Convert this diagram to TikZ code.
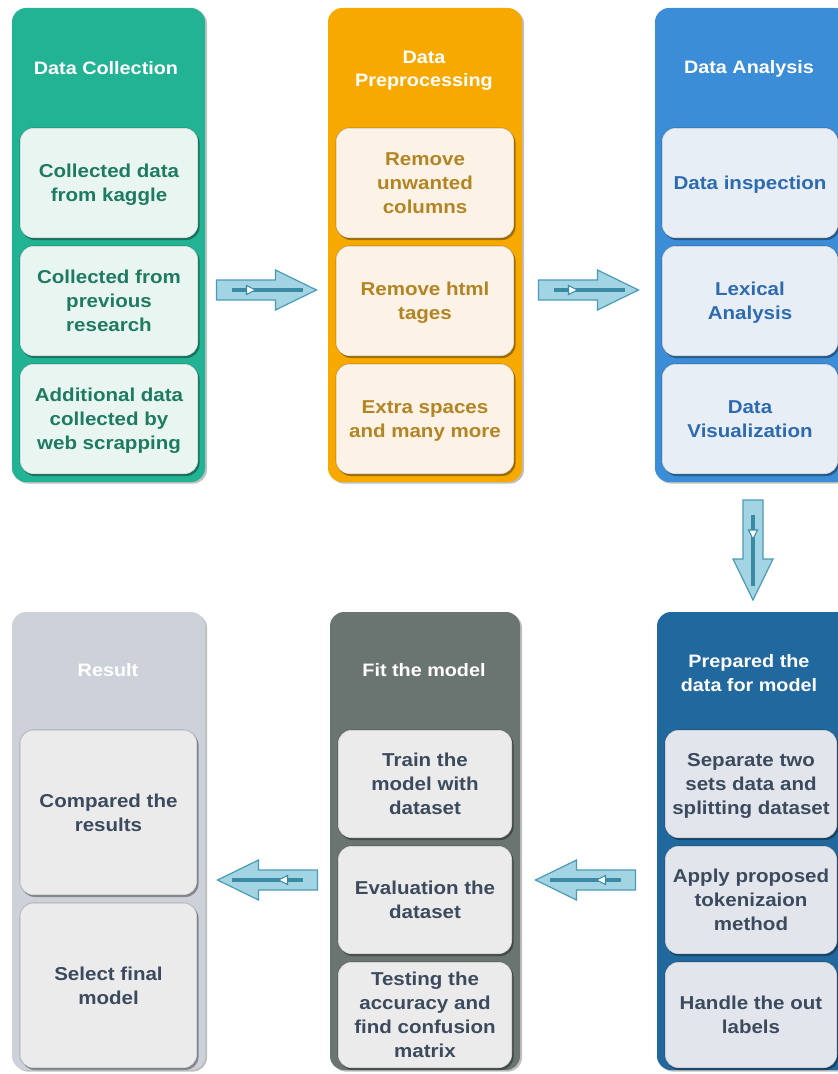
\documentclass[tikz,border=0pt]{standalone}
\usepackage{fontspec}
\setmainfont{Liberation Sans}[FakeStretch=1.1]
\usetikzlibrary{calc,shadows}
\definecolor{cgreen}{HTML}{21B394}
\definecolor{igreen}{HTML}{E9F5F1}
\definecolor{tgreen}{HTML}{1F7A62}
\definecolor{corange}{HTML}{F8A900}
\definecolor{iorange}{HTML}{FCF2E6}
\definecolor{torange}{HTML}{B38424}
\definecolor{cblue}{HTML}{3A8DD6}
\definecolor{iblue}{HTML}{E8EEF6}
\definecolor{tblue}{HTML}{2D6BAE}
\definecolor{cdblue}{HTML}{21689E}
\definecolor{idblue}{HTML}{E2E6EC}
\definecolor{cdgray}{HTML}{6A7471}
\definecolor{cgray}{HTML}{CDD2DA}
\definecolor{igray}{HTML}{EBEBEB}
\definecolor{tslate}{HTML}{3C4A5E}
\definecolor{afill}{HTML}{A3D4E4}
\definecolor{aedge}{HTML}{4A9BB5}
\definecolor{aline}{HTML}{3A8AA3}
\tikzset{
  colbox/.style={rounded corners=10.5pt, inner sep=0pt,
    drop shadow={shadow xshift=1.5pt, shadow yshift=-1.2pt, opacity=0.25, fill=black}},
  innerbox/.style={rounded corners=10pt, inner sep=0pt, align=center, text depth=0pt,
    draw=black, draw opacity=0.15, line width=0.8pt,
    font=\fontsize{14}{18}\selectfont\bfseries,
    drop shadow={shadow xshift=1.2pt, shadow yshift=-1.5pt, opacity=0.35, fill=black}},
  titletext/.style={align=center, text=white, font=\fontsize{13.5}{17.5}\selectfont\bfseries},
  arrbody/.style={fill=afill, draw=aedge, line width=0.9pt, line join=miter},
  arrline/.style={draw=aline, line width=2.6pt},
  arrtri/.style={fill=white, draw=aline, line width=0.8pt}
}
\newcommand\flowarrow[2]{%
  \begin{scope}[shift={(#1)}, rotate=#2]
    \draw[arrbody] (-50,-10) -- (9,-10) -- (9,-20) -- (50,0) -- (9,20) -- (9,10) -- (-50,10) -- cycle;
    \draw[arrline] (-35,0) -- (36,0);
    \draw[arrtri] (-20,-4.5) -- (-11,0) -- (-20,4.5) -- cycle;
  \end{scope}}
\begin{document}
\begin{tikzpicture}[x=0.75pt, y=-0.75pt]
\useasboundingbox (0,0) rectangle (838,1074);
\clip (0,0) rectangle (838,1074);
% ---------- top row ----------
\node[colbox, fill=cgreen, minimum width={193*0.75pt}, minimum height={474*0.75pt}] (c1) at (108.5,245) {};
\node[titletext] (t1) at (106,68) {Data Collection};
\node[innerbox, fill=igreen, text=tgreen, minimum width={178*0.75pt}, minimum height={110*0.75pt}] (b11) at (109,183) {Collected data\\from kaggle};
\node[innerbox, fill=igreen, text=tgreen, minimum width={178*0.75pt}, minimum height={110*0.75pt}] (b12) at (109,301) {Collected from\\previous\\research};
\node[innerbox, fill=igreen, text=tgreen, minimum width={178*0.75pt}, minimum height={110*0.75pt}] (b13) at (109,419) {Additional data\\collected by\\web scrapping};

\node[colbox, fill=corange, minimum width={194*0.75pt}, minimum height={474*0.75pt}] (c2) at (425,245) {};
\node[titletext] (t2) at (424,71) {Data\\Preprocessing};
\node[innerbox, fill=iorange, text=torange, minimum width={178*0.75pt}, minimum height={110*0.75pt}] (b21) at (425,183) {Remove\\unwanted\\columns};
\node[innerbox, fill=iorange, text=torange, minimum width={178*0.75pt}, minimum height={110*0.75pt}] (b22) at (425,301) {Remove html\\tages};
\node[innerbox, fill=iorange, text=torange, minimum width={178*0.75pt}, minimum height={110*0.75pt}] (b23) at (425,419) {Extra spaces\\and many more};

\node[colbox, fill=cblue, minimum width={194*0.75pt}, minimum height={474*0.75pt}] (c3) at (752,245) {};
\node[titletext] (t3) at (749,69) {Data Analysis};
\node[innerbox, fill=iblue, text=tblue, minimum width={176*0.75pt}, minimum height={110*0.75pt}] (b31) at (750,183) {Data inspection};
\node[innerbox, fill=iblue, text=tblue, minimum width={176*0.75pt}, minimum height={110*0.75pt}] (b32) at (750,301) {Lexical\\Analysis};
\node[innerbox, fill=iblue, text=tblue, minimum width={176*0.75pt}, minimum height={110*0.75pt}] (b33) at (750,419) {Data\\Visualization};

% ---------- bottom row ----------
\node[colbox, fill=cgray, minimum width={193*0.75pt}, minimum height={458*0.75pt}] (c6) at (108.5,841) {};
\node[titletext] (t6) at (108,670) {Result};
\node[innerbox, fill=igray, text=tslate, minimum width={177*0.75pt}, minimum height={165*0.75pt}] (b61) at (108.5,812.5) {Compared the\\results};
\node[innerbox, fill=igray, text=tslate, minimum width={177*0.75pt}, minimum height={165*0.75pt}] (b62) at (108.5,985.5) {Select final\\model};

\node[colbox, fill=cdgray, minimum width={190*0.75pt}, minimum height={458*0.75pt}] (c5) at (425,841) {};
\node[titletext] (t5) at (424,670) {Fit the model};
\node[innerbox, fill=igray, text=tslate, minimum width={174*0.75pt}, minimum height={108*0.75pt}] (b51) at (425,784) {Train the\\model with\\dataset};
\node[innerbox, fill=igray, text=tslate, minimum width={174*0.75pt}, minimum height={108*0.75pt}] (b52) at (425,900) {Evaluation the\\dataset};
\node[innerbox, fill=igray, text=tslate, minimum width={174*0.75pt}, minimum height={106*0.75pt}] (b53) at (425,1015) {Testing the\\accuracy and\\find confusion\\matrix};

\node[colbox, fill=cdblue, minimum width={194*0.75pt}, minimum height={458*0.75pt}] (c4) at (754,841) {};
\node[titletext] (t4) at (749,673) {Prepared the\\data for model};
\node[innerbox, fill=idblue, text=tslate, minimum width={172*0.75pt}, minimum height={108*0.75pt}] (b41) at (751,784) {Separate two\\sets data and\\splitting dataset};
\node[innerbox, fill=idblue, text=tslate, minimum width={172*0.75pt}, minimum height={108*0.75pt}] (b42) at (751,900) {Apply proposed\\tokenizaion\\method};
\node[innerbox, fill=idblue, text=tslate, minimum width={172*0.75pt}, minimum height={106*0.75pt}] (b43) at (751,1015) {Handle the out\\labels};

% ---------- arrows ----------
\coordinate (a1) at ($(c1.east)!0.5!(c2.west)+(0,45)$);
\coordinate (a2) at ($(c2.east)!0.5!(c3.west)+(0,45)$);
\coordinate (a3) at ($(c3.south)!0.5!(c4.north)+(0,3)$);
\coordinate (a4) at ($(c4.west)!0.5!(c5.east)+(-3,39)$);
\coordinate (a5) at ($(c5.west)!0.5!(c6.east)+(0,39)$);
\flowarrow{a1}{0}
\flowarrow{a2}{0}
\flowarrow{a3}{-90}
\flowarrow{a4}{180}
\flowarrow{a5}{180}
\end{tikzpicture}
\end{document}
